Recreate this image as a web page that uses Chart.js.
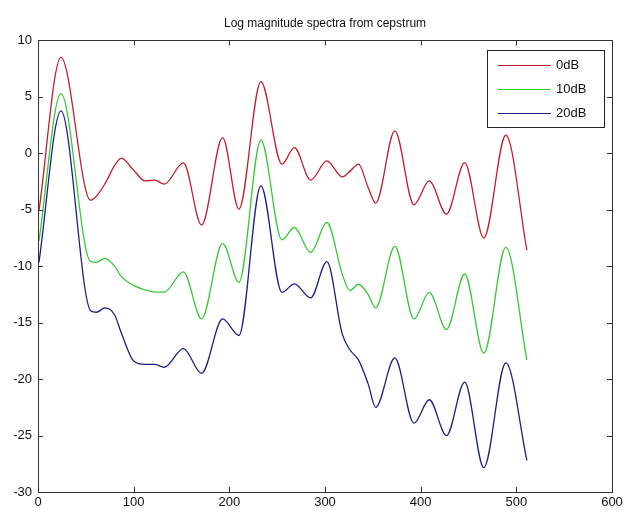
<!DOCTYPE html>
<html>
<head>
<meta charset="utf-8">
<script src="https://cdn.jsdelivr.net/npm/chart.js@4.4.1/dist/chart.umd.min.js"></script>
<style>
    html, body { margin: 0; padding: 0; background: #fff; }
    #wrap { width: 624px; height: 512px; }
</style>
</head>
<body>
<div id="wrap"><canvas id="specChart"></canvas></div>
<script>
// sample positions (bins)
const bins = [1, 24, 55, 61, 70, 80, 87, 100, 112, 122, 132, 152, 171, 193, 210, 233, 255, 268, 285, 302,
    318, 326, 335, 345, 353, 373, 393, 409, 427, 446, 466, 489, 511];

const db0 = [-5.1, 8.5, -4.15, -3.8, -2.7, -1.1, -0.43, -1.5, -2.44, -2.38, -2.73, -0.85, -6.36, 1.39, -4.94, 6.34, -0.96, 0.5, -2.38, -0.67,
    -2.09, -1.6, -0.96, -3.0, -4.41, 1.98, -4.56, -2.44, -5.38, -0.82, -7.5, 1.6, -8.57];

const db10 = [-7.75, 5.28, -9.6, -9.66, -9.31, -10.0, -10.9, -11.7, -12.1, -12.3, -12.3, -10.5, -14.67, -7.98, -11.43, 1.16, -7.66, -6.57, -8.78, -6.13,
    -10.7, -12.17, -11.6, -12.5, -13.7, -8.25, -14.67, -12.32, -15.6, -10.69, -17.71, -8.34, -18.3];

const db20 = [-9.66, 3.75, -13.94, -14.08, -13.7, -14.3, -15.9, -18.4, -18.7, -18.7, -18.95, -17.3, -19.48, -14.67, -16.14, -2.88, -12.32, -11.57, -12.81, -9.6,
    -16.0, -17.4, -18.3, -20.4, -22.5, -18.12, -23.9, -21.83, -25.0, -20.27, -27.84, -18.56, -27.2];

const seriesNames = ['0dB', '10dB', '20dB'];
const xTicks = [0, 100, 200, 300, 400, 500, 600];
const yTicks = [-30, -25, -20, -15, -10, -5, 0, 5, 10];

const FONT = 'Liberation Sans, Arial, sans-serif';
const colors = ['rgb(195, 30, 45)', 'rgb(55, 200, 55)', 'rgb(30, 30, 135)'];

const toPoints = vals => bins.map((b, i) => ({ x: b, y: vals[i] }));

// matlab-ish box with inward ticks
const boxTicks = {
    id: 'boxTicks',
    afterDatasetsDraw(chart) {
        const { ctx, chartArea: a, scales } = chart;
        ctx.save();
        ctx.strokeStyle = '#333';
        ctx.lineWidth = 1;
        ctx.strokeRect(Math.round(a.left) + 0.5, Math.round(a.top) + 0.5,
            Math.round(a.right - a.left), Math.round(a.bottom - a.top));
        ctx.beginPath();
        xTicks.forEach(v => {
            const px = Math.round(scales.x.getPixelForValue(v)) + 0.5;
            ctx.moveTo(px, a.bottom); ctx.lineTo(px, a.bottom - 5);
            ctx.moveTo(px, a.top); ctx.lineTo(px, a.top + 5);
        });
        yTicks.forEach(v => {
            const py = Math.round(scales.y.getPixelForValue(v)) + 0.5;
            ctx.moveTo(a.left, py); ctx.lineTo(a.left + 5, py);
            ctx.moveTo(a.right, py); ctx.lineTo(a.right - 5, py);
        });
        ctx.stroke();
        ctx.restore();
    }
};

// legend box in the top right corner
const cornerLegend = {
    id: 'cornerLegend',
    afterDraw(chart) {
        const { ctx, chartArea: a } = chart;
        const w = 117, h = 77;
        const left = a.right - 8 - w, top = a.top + 10;
        ctx.save();
        ctx.fillStyle = '#fff';
        ctx.fillRect(left, top, w, h);
        ctx.strokeStyle = '#222';
        ctx.lineWidth = 1;
        ctx.strokeRect(Math.round(left) + 0.5, Math.round(top) + 0.5, w, h);
        ctx.font = '13px ' + FONT;
        ctx.textBaseline = 'middle';
        chart.data.datasets.forEach((ds, i) => {
            const y = Math.round(top + 15 + i * 24) + 0.5;
            ctx.strokeStyle = ds.borderColor;
            ctx.lineWidth = 1.2;
            ctx.beginPath();
            ctx.moveTo(left + 11, y);
            ctx.lineTo(left + 64, y);
            ctx.stroke();
            ctx.fillStyle = '#111';
            ctx.fillText(ds.label, left + 69, y);
        });
        ctx.restore();
    }
};

new Chart(document.getElementById('specChart'), {
    type: 'line',
    data: {
        datasets: [db0, db10, db20].map((vals, i) => ({
            label: seriesNames[i],
            data: toPoints(vals),
            borderColor: colors[i],
            borderWidth: 1.3,
            pointRadius: 0,
            fill: false,
            cubicInterpolationMode: 'monotone'
        }))
    },
    options: {
        responsive: true,
        maintainAspectRatio: false,
        animation: false,
        layout: { padding: { left: 0, right: 12, top: 0, bottom: 0 } },
        plugins: {
            legend: { display: false },
            tooltip: { enabled: false },
            title: {
                display: true,
                text: 'Log magnitude spectra from cepstrum',
                fullSize: false,
                color: '#111',
                font: { family: FONT, size: 12, weight: 'normal' },
                padding: { top: 16, bottom: 10 }
            }
        },
        scales: {
            x: {
                type: 'linear',
                min: 0,
                max: 600,
                afterFit: s => { s.height = 20; s.paddingRight = 0; },
                afterBuildTicks: s => { s.ticks = xTicks.map(v => ({ value: v })); },
                ticks: { color: '#111', padding: 3, font: { family: FONT, size: 13 } },
                grid: { display: false, drawTicks: false },
                border: { display: false }
            },
            y: {
                min: -30,
                max: 10,
                afterFit: s => { s.width = 38; },
                afterBuildTicks: s => { s.ticks = yTicks.map(v => ({ value: v })); },
                ticks: { color: '#111', padding: 6, font: { family: FONT, size: 13 } },
                grid: { display: false, drawTicks: false },
                border: { display: false }
            }
        }
    },
    plugins: [boxTicks, cornerLegend]
});
</script>
</body>
</html>
